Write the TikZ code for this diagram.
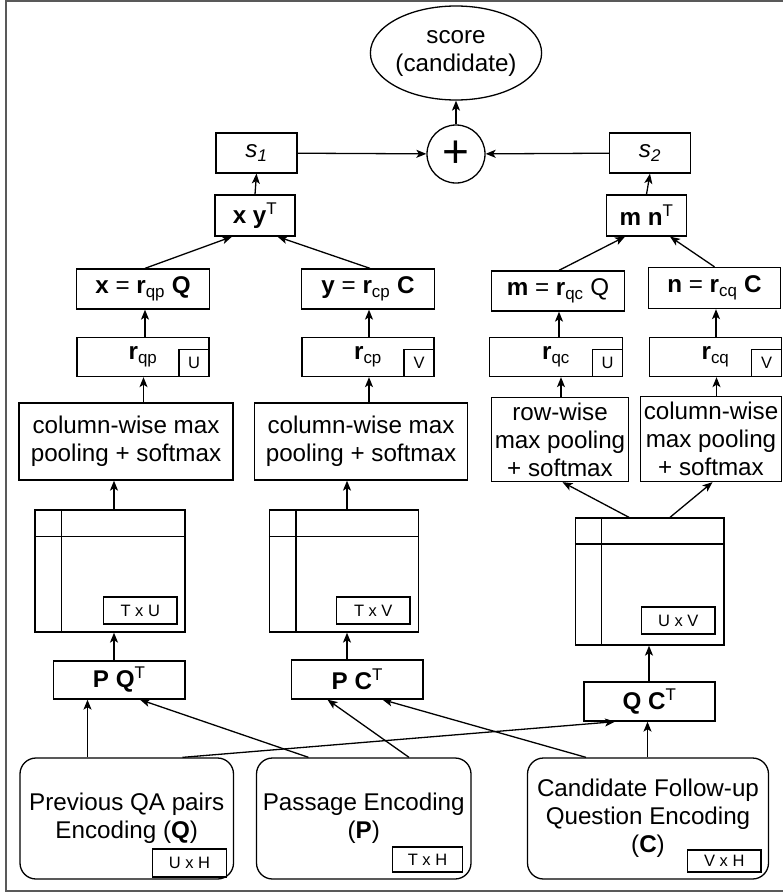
\documentclass[tikz,border=0pt]{standalone}
\usepackage{fontspec}
\setmainfont{Liberation Sans}
\usetikzlibrary{shapes.geometric,arrows.meta}
\begin{document}
\begin{tikzpicture}[x=1pt,y=-1pt,
  lw/.style={line width=1.3pt},
  box/.style={draw,lw,inner sep=0pt,align=center,font=\fontsize{24.2}{28}\selectfont},
  rbox/.style={box,rounded corners=16pt},
  sbox/.style={draw,lw,inner sep=0pt,align=center,font=\fontsize{16.5}{18}\selectfont},
  arr/.style={lw,-{Stealth[length=10pt,width=8pt,inset=2.5pt]}}
]
\useasboundingbox (0,0) rectangle (782,894);
% frame
\draw[line width=1.5pt,black!65] (6,1) rectangle (800,891);

% top
\node[box,ellipse,minimum width=150,minimum height=94] (score) at (456,53) {score\\(candidate)};
\node[box,circle,minimum size=58,font=\fontsize{46}{46}\selectfont] (plus) at (456,154) {+};
\node[box,minimum width=81,minimum height=40] (s1) at (256.5,153) {\textit{s\textsubscript{1}}};
\node[box,minimum width=81,minimum height=40] (s2) at (650,153) {\textit{s\textsubscript{2}}};
\node[box,minimum width=80,minimum height=41] (xyT) at (255,215.5) {\textbf{x y}\textsuperscript{T}};
\node[box,minimum width=80,minimum height=41] (mnT) at (646.5,215.5) {\textbf{m n}\textsuperscript{T}};

% x,y,m,n
\node[box,minimum width=133,minimum height=40] (xb) at (143,289) {\textbf{x} = \textbf{r}\textsubscript{qp} \textbf{Q}};
\node[box,minimum width=133,minimum height=40] (yb) at (368,289) {\textbf{y} = \textbf{r}\textsubscript{cp} \textbf{C}};
\node[box,minimum width=133,minimum height=40] (mb) at (558,291) {\textbf{m} = \textbf{r}\textsubscript{qc} Q};
\node[box,minimum width=132,minimum height=41] (nb) at (714.5,288) {\textbf{n} = \textbf{r}\textsubscript{cq} \textbf{C}};

% r boxes
\node[box,minimum width=132,minimum height=39] (rqp) at (143,357) {\textbf{r}\textsubscript{qp}};
\node[box,minimum width=132,minimum height=39] (rcp) at (368,357) {\textbf{r}\textsubscript{cp}};
\node[box,minimum width=133,minimum height=39] (rqc) at (556,357) {\textbf{r}\textsubscript{qc}};
\node[box,minimum width=132,minimum height=39] (rcq) at (715.5,357) {\textbf{r}\textsubscript{cq}};
\node[sbox,minimum width=30,minimum height=27,anchor=south east] (rqpU) at (rqp.south east) {U};
\node[sbox,minimum width=30,minimum height=27,anchor=south east] (rcpV) at (rcp.south east) {V};
\node[sbox,minimum width=30,minimum height=27,anchor=south east] (rqcU) at (rqc.south east) {U};
\node[sbox,minimum width=30,minimum height=27,anchor=south east] (rcqV) at (rcq.south east) {V};

% pooling
\node[box,minimum width=214,minimum height=77] (col1) at (126,441.5) {column-wise max\\pooling + softmax};
\node[box,minimum width=213.5,minimum height=77] (col2) at (361,441.5) {column-wise max\\pooling + softmax};
\node[box,minimum width=137,minimum height=84] (row3) at (560,439.5) {row-wise\\max pooling\\+ softmax};
\node[box,minimum width=141,minimum height=85] (col4) at (711,439) {column-wise\\max pooling\\+ softmax};

% matrices
\node[box,minimum width=150,minimum height=122] (mat1) at (110,571) {};
\node[box,minimum width=149,minimum height=122] (mat2) at (344,571) {};
\node[box,minimum width=148.5,minimum height=127] (mat3) at (649.75,581.5) {};
\foreach \m/\d in {mat1/27,mat2/27,mat3/26.5}{
  \draw[lw] ([xshift=\d]\m.north west) -- ([xshift=\d]\m.south west);
  \draw[lw] ([yshift=-\d]\m.north west) -- ([yshift=-\d]\m.north east);
}
\node[sbox,minimum width=73.5,minimum height=27,anchor=south east] (tu) at ([xshift=-8,yshift=8]mat1.south east) {T x U};
\node[sbox,minimum width=73.5,minimum height=27,anchor=south east] (tv) at ([xshift=-8.5,yshift=8]mat2.south east) {T x V};
\node[sbox,minimum width=73.5,minimum height=27,anchor=south east] (uv) at ([xshift=-9,yshift=11]mat3.south east) {U x V};

% products
\node[box,minimum width=131.5,minimum height=38] (PQ) at (119.25,680) {\textbf{P Q}\textsuperscript{T}};
\node[box,minimum width=131.5,minimum height=39] (PC) at (357.25,679.5) {\textbf{P C}\textsuperscript{T}};
\node[box,minimum width=131,minimum height=39] (QC) at (649.5,701.5) {\textbf{Q C}\textsuperscript{T}};

% encodings
\node[rbox,minimum width=213.5,minimum height=121] (encQ) at (126.75,818.5) {Previous QA pairs\\Encoding (\textbf{Q})};
\node[rbox,minimum width=214.5,minimum height=121] (encP) at (363.75,818.5) {Passage Encoding\\(\textbf{P})};
\node[rbox,minimum width=241,minimum height=121] (encC) at (648,818.5) {Candidate Follow-up\\Question Encoding\\(\textbf{C})};
\node[sbox,minimum width=74,minimum height=28,anchor=south east] (uh) at ([xshift=-7,yshift=2]encQ.south east) {U x H};
\node[sbox,minimum width=70,minimum height=25,anchor=south east] (th) at ([xshift=-8.5,yshift=7]encP.south east) {T x H};
\node[sbox,minimum width=73.5,minimum height=22,anchor=south east] (vh) at ([xshift=-7.5,yshift=7]encC.south east) {V x H};

% arrows
\draw[arr] (plus) -- (score);
\draw[arr] (s1) -- (plus);
\draw[arr] (s2) -- (plus);
\draw[arr] (xyT.north) -- (s1.south);
\draw[arr] (mnT.north) -- (s2.south);
\draw[arr] ([xshift=2]xb.north) -- ([xshift=-23]xyT.south);
\draw[arr] ([xshift=2]yb.north) -- ([xshift=22.5]xyT.south);
\draw[arr] ([xshift=1]mb.north) -- ([xshift=-21.5]mnT.south);
\draw[arr] (nb.north) -- ([xshift=23.5]mnT.south);
\draw[arr] ([xshift=2]rqp.north) -- ([xshift=2]xb.south);
\draw[arr] ([xshift=1]rcp.north) -- ([xshift=1]yb.south);
\draw[arr] ([xshift=3]rqc.north) -- ([xshift=1]mb.south);
\draw[arr] ([xshift=0.5]rcq.north) -- ([xshift=1.5]nb.south);
\draw[arr] ([xshift=17.5]col1.north) -- ([xshift=0.5]rqp.south);
\draw[arr] ([xshift=8]col2.north) -- ([xshift=1]rcp.south);
\draw[arr] ([xshift=1]row3.north) -- ([xshift=5]rqc.south);
\draw[arr] ([xshift=5.5]col4.north) -- ([xshift=1]rcq.south);
\draw[arr] ([xshift=4]mat1.north) -- ([xshift=-12]col1.south);
\draw[arr] ([xshift=3]mat2.north) -- ([xshift=-14]col2.south);
\draw[arr] ([xshift=-20.75]mat3.north) -- ([xshift=2.5]row3.south);
\draw[arr] ([xshift=20.25]mat3.north) -- ([xshift=1.5]col4.south);
\draw[arr] ([xshift=-5.25]PQ.north) -- ([xshift=4]mat1.south);
\draw[arr] ([xshift=-10.25]PC.north) -- ([xshift=3]mat2.south);
\draw[arr] ([xshift=-0.5]QC.north) -- ([xshift=-0.75]mat3.south);
\draw[arr] ([xshift=-39.25]encQ.north) -- ([xshift=-31.75]PQ.south);
\draw[arr] ([xshift=55.75]encQ.north) -- ([xshift=-34.5]QC.south);
\draw[arr] ([xshift=-55.25]encP.north) -- ([xshift=20.75]PQ.south);
\draw[arr] ([xshift=45.25]encP.north) -- ([xshift=-29.75]PC.south);
\draw[arr] ([xshift=-62]encC.north) -- ([xshift=25.25]PC.south);
\draw[arr] ([xshift=-0.5]encC.north) -- ([xshift=-2]QC.south);
\end{tikzpicture}
\end{document}
